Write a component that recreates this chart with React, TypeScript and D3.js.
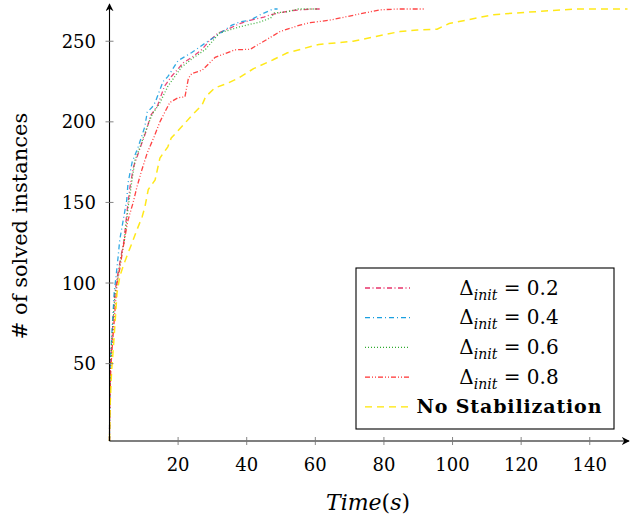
import React from "react";
import * as d3 from "d3";

const xTicks = [20, 40, 60, 80, 100, 120, 140];
const yTicks = [50, 100, 150, 200, 250];

const t02 = [0, 0.1, 0.3, 0.8, 1.5, 2.2, 3.2, 4.2, 5.3, 6, 7, 8.8, 10.8, 12, 14, 16, 18, 21.5, 24, 27, 29, 31.6, 35, 38, 41, 45, 47, 53, 59, 62];
const n02 = [2, 28, 50, 68, 93, 103, 115, 126, 148, 160, 172, 183, 195, 204, 210, 222, 228, 236.6, 240, 245, 250, 255, 258, 261, 263, 265, 266.5, 269, 270, 270];

const t04 = [0, 0.1, 0.3, 0.7, 1.4, 1.9, 2.5, 3, 4, 5, 5.4, 6.6, 8.3, 10.3, 11, 12.4, 13.3, 15.6, 17, 20, 24, 28, 33, 35.7, 38, 41, 44, 47.7, 49];
const n04 = [2, 30, 52, 69, 95, 104, 116, 127, 139, 151, 162, 175, 184, 197, 206, 209, 212, 225, 228, 238, 243, 249, 256, 260, 262, 263, 266.5, 270, 270];

const t06 = [0, 0.1, 0.3, 0.8, 1.6, 2.4, 3.3, 4.3, 5.5, 6.3, 7.4, 9, 11, 12.5, 14.5, 17, 19, 21, 24, 28, 32, 38, 44, 47, 48, 52, 55, 61];
const n06 = [2, 29, 51, 68, 93, 103, 115, 126, 148, 160, 176, 185, 197, 205, 211, 222, 228, 234, 239, 245, 255, 259, 262, 264.5, 267.5, 268.3, 270, 270];

const t08 = [0, 0.1, 0.4, 1, 2.2, 3.1, 3.7, 4.5, 5.4, 6.9, 8, 9.4, 11, 13, 14.7, 16, 17.6, 20, 22, 23, 24, 27, 30.8, 32, 36.6, 41, 45, 49.7, 55.5, 58.5, 64, 68.6, 73, 79, 84, 92];
const n08 = [2, 25, 48, 66, 100, 110, 118.6, 128.6, 139, 150, 159.6, 170, 180.7, 190.7, 200, 205.5, 212, 215, 215.5, 227, 230, 232, 240, 241, 244.7, 245, 250, 256, 260, 261.5, 263, 265, 267, 269.5, 270, 270];

const tNo = [0, 0.2, 0.6, 1.2, 2.2, 3, 3.9, 5.4, 6.6, 8, 9.5, 10.3, 11.3, 13.3, 14.7, 17, 18, 21.5, 24, 27, 28, 30.7, 34.5, 37.5, 42, 47.7, 51.7, 61, 71, 81, 84.7, 89.7, 95.5, 99, 112, 121.7, 136, 151];
const nNo = [2, 25, 45, 62, 94, 104, 110, 118.6, 125, 133, 141, 147, 158, 164, 177.6, 184.5, 190, 198, 204, 210.5, 215.5, 221, 224, 227, 233, 238.5, 242.7, 248, 250, 254.5, 256, 257, 257.5, 261, 266.5, 268, 270, 270];

const seriesNames = ["0.2", "0.4", "0.6", "0.8", "No Stabilization"];

const series = [
  { name: seriesNames[0], t: t02, n: n02, color: "#e8336b", dash: "5,2.5,1,2.5" },
  { name: seriesNames[1], t: t04, n: n04, color: "#1a9fe0", dash: "5,3,1,3" },
  { name: seriesNames[2], t: t06, n: n06, color: "#2eaa2e", dash: "1,2" },
  { name: seriesNames[3], t: t08, n: n08, color: "#ff3030", dash: "5,2,1,2,1,2" },
  { name: seriesNames[4], t: tNo, n: nNo, color: "#ffe600", dash: "7,5" },
];

const FONT = "DejaVu Serif";

export default function App() {
  const x0 = 109.5, x1 = 627.5, yb = 441, yt = 9;
  const x = d3.scaleLinear().domain([0, 151]).range([x0, x1]);
  const y = d3.scaleLinear().domain([2, 270]).range([yb, yt]);
  const line = d3.line<[number, number]>().x((d) => x(d[0])).y((d) => y(d[1]));

  const legX = 356, legY = 268, legW = 258, legH = 161;
  const rowY = (i: number) => 288 + i * 29.7;

  return (
    <svg width={630} height={521} style={{ position: "absolute", left: 0, top: 0, background: "#fff", fontFamily: FONT }}>
      <defs>
        <marker id="arr" viewBox="0 0 10 10" refX="9" refY="5" markerWidth="8" markerHeight="8" orient="auto-start-reverse" markerUnits="userSpaceOnUse">
          <path d="M0,0 L10,5 L0,10 L3,5 Z" fill="#000" />
        </marker>
      </defs>
      {series.map((s) => (
        <path
          key={s.name}
          d={line(s.t.map((tv, i) => [tv, s.n[i]] as [number, number])) || ""}
          fill="none"
          stroke={s.color}
          strokeWidth={s.name === "No Stabilization" ? 1.5 : 1.3}
          strokeDasharray={s.dash}
          strokeOpacity={0.9}
        />
      ))}
      <line x1={x0} y1={yb} x2={x0} y2={4} stroke="#000" strokeWidth={1.1} markerEnd="url(#arr)" />
      <line x1={x0} y1={yb} x2={629} y2={yb} stroke="#000" strokeWidth={1.1} markerEnd="url(#arr)" />
      {xTicks.map((v) => (
        <g key={v}>
          <line x1={x(v)} x2={x(v)} y1={yb - 4} y2={yb + 4} stroke="#777" strokeWidth={0.9} />
          <text x={x(v)} y={yb + 30} textAnchor="middle" fontSize={18}>{v}</text>
        </g>
      ))}
      {yTicks.map((v) => (
        <g key={v}>
          <line x1={x0 - 4} x2={x0 + 4} y1={y(v)} y2={y(v)} stroke="#777" strokeWidth={0.9} />
          <text x={96} y={y(v) + 6.5} textAnchor="end" fontSize={18}>{v}</text>
        </g>
      ))}
      <text x={368} y={510} textAnchor="middle" fontSize={22}>
        <tspan fontStyle="italic">Time</tspan>(<tspan fontStyle="italic">s</tspan>)
      </text>
      <text transform="translate(27,226) rotate(-90)" textAnchor="middle" fontSize={21}># of solved instances</text>
      <rect x={legX} y={legY} width={legW} height={legH} fill="#fff" stroke="#000" strokeWidth={1.1} />
      {series.map((s, i) => (
        <g key={s.name}>
          <line x1={365} x2={410} y1={rowY(i)} y2={rowY(i)} stroke={s.color} strokeWidth={1.3} strokeDasharray={s.dash} />
          {i < 4 ? (
            <text x={509} y={rowY(i) + 6.5} textAnchor="middle" fontSize={20}>
              Δ<tspan fontStyle="italic" fontSize={14} dy={5}>init</tspan>
              <tspan dy={-5}> = {s.name}</tspan>
            </text>
          ) : (
            <text x={509} y={rowY(i) + 6.5} textAnchor="middle" fontSize={19} fontWeight="bold" textLength={185} lengthAdjust="spacing">{s.name}</text>
          )}
        </g>
      ))}
    </svg>
  );
}
